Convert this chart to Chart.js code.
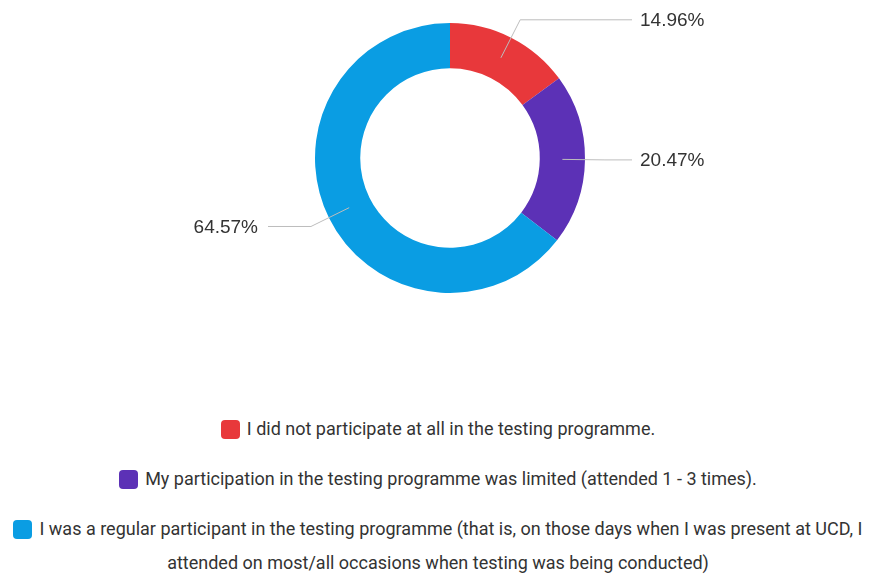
<!DOCTYPE html>
<html>
<head>
<meta charset="utf-8">
<script src="https://cdn.jsdelivr.net/npm/chart.js@4.4.0/dist/chart.umd.min.js"></script>
<style>
  body { margin: 0; background: #fff; font-family: Roboto, sans-serif; }
  #wrap { width: 870px; height: 316px; position: relative; }
  #legend { width: 870px; margin-top: 96px; margin-left: 3px; text-align: center; color: #333; font-size: 18px; }
  .item { line-height: 34px; margin-bottom: 16px; }
  .box { display: inline-block; width: 19px; height: 19px; border-radius: 4px; vertical-align: -4px; margin-right: 7px; }
</style>
</head>
<body>
<div id="wrap"><canvas id="myChart"></canvas></div>
<div id="legend"></div>
<script>
var labels = [
    'I did not participate at all in the testing programme.',
    'My participation in the testing programme was limited (attended 1 - 3 times).',
    'I was a regular participant in the testing programme (that is, on those days when I was present at UCD, I attended on most/all occasions when testing was being conducted)'
]
var values = [14.96, 20.47, 64.57]
var donutColors = ['#e8383b', '#5c31b6', '#0a9de3']

// labels with leader lines
var leaderLabels = {
    id: 'leaderLabels',
    afterDatasetsDraw(chart) {
        var ctx = chart.ctx
        var arcs = chart.getDatasetMeta(0).data
        ctx.save()
        arcs.forEach(function (arc, i) {
            var p = arc.getProps(['x', 'y', 'startAngle', 'endAngle', 'innerRadius', 'outerRadius'], true)
            var mid = (p.startAngle + p.endAngle) / 2
            var rIn = (p.innerRadius + p.outerRadius) / 2
            var rOut = p.outerRadius + 20
            var x1 = p.x + Math.cos(mid) * rIn, y1 = p.y + Math.sin(mid) * rIn
            var x2 = p.x + Math.cos(mid) * rOut, y2 = p.y + Math.sin(mid) * rOut
            var right = Math.cos(mid) >= 0
            var x3 = right ? p.x + 182 : p.x - 182
            ctx.strokeStyle = '#bdbdbd'
            ctx.lineWidth = 1
            ctx.beginPath()
            ctx.moveTo(x1, y1)
            ctx.lineTo(x2, y2)
            ctx.lineTo(x3, y2)
            ctx.stroke()
            ctx.fillStyle = '#333'
            ctx.font = '19px "Liberation Sans", Arial, sans-serif'
            ctx.textBaseline = 'middle'
            ctx.textAlign = right ? 'left' : 'right'
            ctx.fillText(values[i].toFixed(2) + '%', right ? x3 + 8 : x3 - 10, y2 + 1)
        })
        ctx.restore()
    }
}

const ctx = document.getElementById('myChart');
new Chart(ctx, {
    type: 'doughnut',
    data: {
        labels: labels,
        datasets: [{
            data: values,
            backgroundColor: donutColors,
            borderWidth: 0,
        }]
    },
    options: {
        responsive: true,
        maintainAspectRatio: false,
        animation: false,
        cutout: '66.5%',
        layout: { padding: { top: 23, bottom: 23, left: 30, right: 0 } },
        plugins: {
            legend: { display: false },
            tooltip: { enabled: false }
        }
    },
    plugins: [leaderLabels]
});

var legend = document.getElementById('legend')
labels.forEach(function (t, i) {
    var div = document.createElement('div')
    div.className = 'item'
    var box = document.createElement('span')
    box.className = 'box'
    box.style.background = donutColors[i]
    div.appendChild(box)
    div.appendChild(document.createTextNode(t))
    legend.appendChild(div)
})
</script>
</body>
</html>
